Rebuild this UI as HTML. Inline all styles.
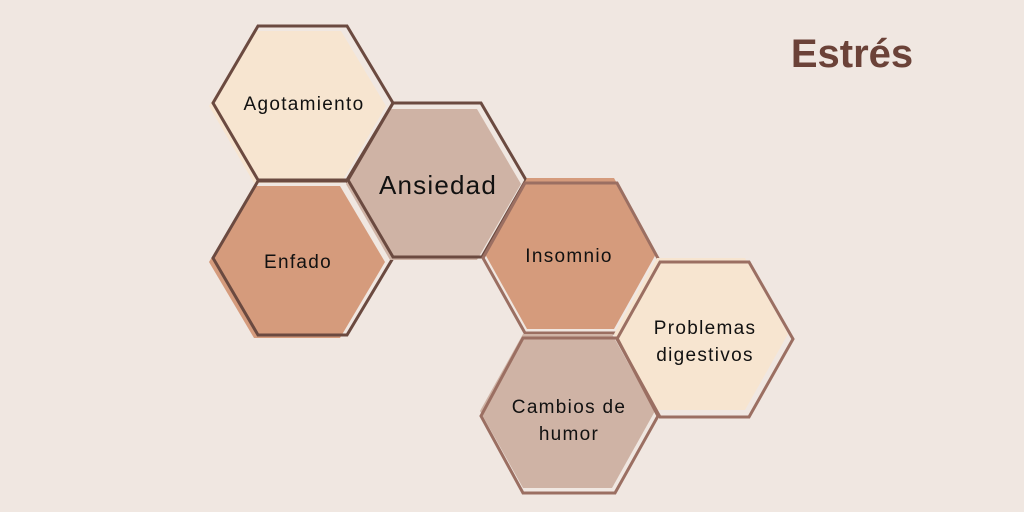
<!DOCTYPE html>
<html><head><style>
html,body{margin:0;padding:0;background:#f0e7e1;}
svg{display:block}
text{font-family:"Liberation Sans","DejaVu Sans",sans-serif;fill:#111;text-anchor:middle}
.t{font-size:19px;letter-spacing:1.3px}
</style></head><body>
<svg width="1024" height="512" viewBox="0 0 1024 512" xmlns="http://www.w3.org/2000/svg">
<rect width="1024" height="512" fill="#f0e7e1"/>
<!-- Agotamiento -->
<polygon points="254,31 341,31 386,106 341,183 254,183 209,106" fill="#f7e5d0"/>
<polygon points="258,26 347,26 393,103 347,180 258,180 213,103" fill="none" stroke="#6b4a40" stroke-width="3"/>
<text class="t" x="304" y="110">Agotamiento</text>
<!-- Enfado -->
<polygon points="254,186 340,186 385,262 340,338 254,338 209,262" fill="#d59b7c"/>
<polygon points="258,181 347,181 393,258 347,335 258,335 213,258" fill="none" stroke="#6b4a40" stroke-width="3"/>
<text class="t" x="298" y="268">Enfado</text>
<!-- Ansiedad -->
<polygon points="390,109 477,109 521,184 477,260 390,260 346,184" fill="#cfb3a5"/>
<polygon points="393,103 481,103 526,180 482,257 393,257 348,180" fill="none" stroke="#6b4a40" stroke-width="3"/>
<text x="438" y="194" font-size="26" letter-spacing="1.2">Ansiedad</text>
<!-- Insomnio -->
<polygon points="527,178 614,178 656,254 614,329 527,329 485,254" fill="#d59b7c"/>
<polygon points="525,183 617,183 660,262 617,333 525,333 483,258" fill="none" stroke="#9b6f62" stroke-width="3"/>
<text class="t" x="569" y="262">Insomnio</text>
<!-- Problemas -->
<polygon points="657,258 745,258 788,334 745,410 657,410 614,334" fill="#f7e5d0"/>
<polygon points="660,262 749,262 793,339 749,417 660,417 617,339" fill="none" stroke="#9b6f62" stroke-width="3"/>
<text class="t" x="705" y="334">Problemas</text>
<text class="t" x="705" y="361">digestivos</text>
<!-- Cambios -->
<polygon points="523,334 612,334 655,411 612,488 523,488 480,411" fill="#cfb3a5"/>
<polygon points="523,338 617,338 658,416 615,493 523,493 481,416" fill="none" stroke="#9b6f62" stroke-width="3"/>
<text class="t" x="569" y="413">Cambios de</text>
<text class="t" x="569" y="440">humor</text>
<text x="852" y="67" font-size="40" font-weight="bold" style="fill:#6b4238">Estrés</text>
</svg>
</body></html>
